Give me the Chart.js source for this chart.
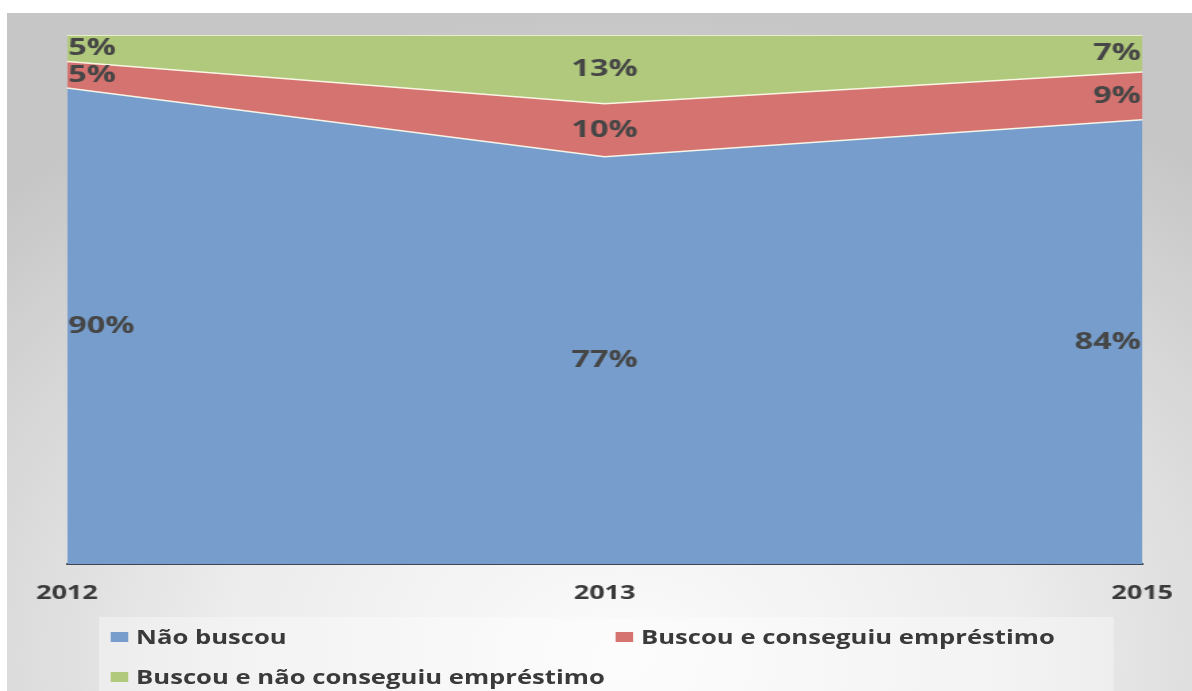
<!DOCTYPE html>
<html>
<head>
<meta charset="utf-8">
<script src="https://cdn.jsdelivr.net/npm/chart.js@4/dist/chart.umd.min.js"></script>
<style>
  html, body { margin: 0; padding: 0; background: #fff; overflow: hidden; }
  #page {
    position: absolute; left: 7px; top: 13px; width: 1185px; height: 678px;
    background: radial-gradient(ellipse 75% 95% at 52% 95%, #fbfbfb 0%, #ececec 45%, #d4d4d4 80%, #c6c6c6 100%);
  }
  /* the original picture is stretched sideways, so the whole chart is too */
  #stretch {
    position: absolute; left: 0; top: 0; width: 886px; height: 691px;
    transform: scaleX(1.35); transform-origin: 0 0;
  }
  #wrap { position: absolute; left: 0; top: 0; width: 886px; height: 622px; }
  #legend {
    position: absolute; left: 72.6px; top: 617px; width: 752px; height: 74px;
    background: rgba(255,255,255,0.35);
    font-family: "Open Sans", sans-serif; font-weight: bold; font-size: 19px; color: #3a3a3a;
    display: grid; grid-template-columns: 374px 378px; grid-auto-rows: 40px;
  }
  .item { display: flex; align-items: center; padding-left: 9.6px; white-space: nowrap; }
  .box { width: 12.6px; height: 10px; margin-right: 6px; flex: none; }
</style>
</head>
<body>
<div id="page"></div>
<div id="stretch">
  <div id="wrap"><canvas id="areaChart"></canvas></div>
  <div id="legend"></div>
</div>
<script>
document.addEventListener("DOMContentLoaded", function () {
  // --- Data ---
  const years = ["2012", "2013", "2015"];
  const naoBuscou = [90, 77, 84];
  const buscouConseguiu = [5, 10, 9];
  const buscouNaoConseguiu = [5, 13, 7];
  const seriesNames = ["Não buscou", "Buscou e conseguiu empréstimo", "Buscou e não conseguiu empréstimo"];
  const seriesColors = ["#769dcb", "#d4736f", "#b0c97c"];

  // draws the % labels in the middle of each band
  const bandLabels = {
    id: "bandLabels",
    afterDatasetsDraw(chart) {
      const ctx = chart.ctx;
      const yScale = chart.scales.y;
      ctx.save();
      ctx.font = "bold 24px 'Open Sans', sans-serif";
      ctx.fillStyle = "#464646";
      ctx.textBaseline = "middle";
      chart.data.datasets.forEach(function (ds, i) {
        const meta = chart.getDatasetMeta(i);
        const prev = i > 0 ? chart.getDatasetMeta(i - 1) : null;
        meta.data.forEach(function (pt, j) {
          const bottom = prev ? prev.data[j].y : yScale.bottom;
          const mid = (pt.y + bottom) / 2;
          let x = pt.x;
          if (j === 0) { ctx.textAlign = "left"; x += 1; }
          else if (j === meta.data.length - 1) { ctx.textAlign = "right"; x -= 1; }
          else ctx.textAlign = "center";
          ctx.fillText(ds.data[j] + "%", x, mid);
        });
      });
      ctx.restore();
    },
  };

  const values = [naoBuscou, buscouConseguiu, buscouNaoConseguiu];
  const chart = new Chart(document.getElementById("areaChart"), {
    type: "line",
    data: {
      labels: years,
      datasets: values.map(function (v, i) {
        return {
          label: seriesNames[i],
          data: v,
          backgroundColor: seriesColors[i],
          borderColor: "rgba(255,255,240,0.9)",
          borderWidth: 1.5,
          fill: i === 0 ? "origin" : "-1",
          pointRadius: 0,
          tension: 0,
        };
      }),
    },
    options: {
      responsive: true,
      maintainAspectRatio: false,
      animation: false,
      layout: { padding: { left: 49.6, right: 30, top: 35, bottom: 0 } },
      plugins: { legend: { display: false }, tooltip: { enabled: false } },
      scales: {
        x: {
          offset: false,
          grid: { display: false, drawTicks: false },
          border: { display: true, color: "#3f4650", width: 2 },
          ticks: {
            padding: 17,
            maxRotation: 0,
            color: "#3a3a3a",
            font: { family: "'Open Sans', sans-serif", weight: "bold", size: 20 },
          },
        },
        y: { display: false, stacked: true, min: 0, max: 100 },
      },
    },
    plugins: [bandLabels],
  });

  // legend in two columns, like the original
  const legend = document.getElementById("legend");
  chart.data.datasets.forEach(function (ds) {
    const item = document.createElement("div");
    item.className = "item";
    item.innerHTML = '<span class="box" style="background:' + ds.backgroundColor + '"></span>' + ds.label;
    legend.appendChild(item);
  });
});
</script>
</body>
</html>
